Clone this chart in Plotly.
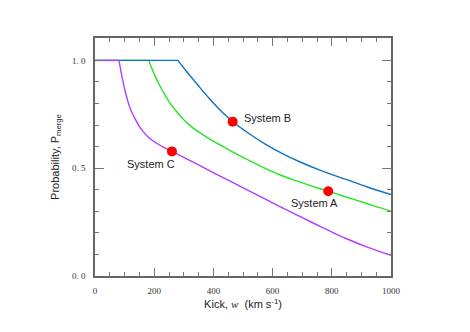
import plotly.graph_objects as go

# curves (kick in km/s, merger probability)
# first two points of each list are the flat P=1 part, the rest is the falling curve
purple_x = [0, 81, 85, 89, 94.5, 102, 111, 121, 134, 147, 162, 183, 207, 232, 260, 300, 342, 398, 455, 511, 567, 623, 679, 735, 791, 848, 920, 1000]
purple_y = [1.0, 1.0, 0.970, 0.940, 0.903, 0.857, 0.810, 0.770, 0.733, 0.700, 0.671, 0.640, 0.617, 0.597, 0.578, 0.550, 0.521, 0.481, 0.441, 0.402, 0.362, 0.323, 0.285, 0.247, 0.210, 0.174, 0.134, 0.096]

green_x = [0, 182, 190, 201, 214, 229, 250, 275, 300, 331, 365, 398, 430, 466, 515, 567, 620, 679, 735, 789, 840, 893, 945, 1000]
green_y = [1.0, 1.0, 0.969, 0.934, 0.895, 0.857, 0.809, 0.764, 0.725, 0.687, 0.655, 0.627, 0.602, 0.575, 0.540, 0.505, 0.472, 0.442, 0.416, 0.393, 0.370, 0.347, 0.324, 0.301]

blue_x = [0, 280, 308, 342, 387, 432, 465, 520, 578, 635, 691, 760, 848, 920, 1000]
blue_y = [1.0, 1.0, 0.951, 0.895, 0.822, 0.757, 0.717, 0.661, 0.609, 0.566, 0.530, 0.491, 0.448, 0.413, 0.378]

sys_names = ["System A", "System B", "System C"]
sys_x = [788, 465, 260]
sys_y = [0.393, 0.716, 0.578]

x_ticks = [0, 200, 400, 600, 800, 1000]
y_ticks = [0.0, 0.5, 1.0]
y_ticktext = ["0. 0", "0. 5", "1. 0"]

fig = go.Figure()

for xs, ys, col in [(green_x, green_y, "#22e622"),
                    (blue_x, blue_y, "#0a74c0"),
                    (purple_x, purple_y, "#b23cff")]:
    # flat part, straight
    fig.add_trace(go.Scatter(x=xs[:2], y=ys[:2], mode="lines",
                             line=dict(color=col, width=1.4)))
    # falling part, smoothed
    fig.add_trace(go.Scatter(x=xs[1:], y=ys[1:], mode="lines",
                             line=dict(color=col, width=1.4, shape="spline", smoothing=1.0)))

fig.add_trace(go.Scatter(x=sys_x, y=sys_y, mode="markers",
                         marker=dict(color="#ff0000", size=10)))

# labels next to the red dots
lab_font = dict(family="Liberation Sans, Arial", size=11, color="#222")
fig.add_annotation(x=sys_x[0], y=sys_y[0], text=sys_names[0], showarrow=False,
                   font=lab_font, xshift=-14, yshift=-12)
fig.add_annotation(x=sys_x[1], y=sys_y[1], text=sys_names[1], showarrow=False,
                   font=lab_font, xanchor="left", xshift=9, yshift=4)
fig.add_annotation(x=sys_x[2], y=sys_y[2], text=sys_names[2], showarrow=False,
                   font=lab_font, xshift=-21, yshift=-13)

axis_common = dict(showgrid=False, zeroline=False, showline=True, linecolor="#666",
                   linewidth=1.5, mirror="ticks", ticks="inside", tickcolor="#777",
                   tickwidth=1.2, automargin=False,
                   tickfont=dict(family="Liberation Serif, Times New Roman", size=9, color="#333"))

fig.update_xaxes(axis_common, range=[0, 1000], tickvals=x_ticks, ticklen=8,
                 ticklabelstandoff=5,
                 minor=dict(dtick=50, ticks="inside", ticklen=4, tickcolor="#777", tickwidth=1.2),
                 title=dict(text="Kick, <span style='font-family:Liberation Serif'><i>w</i></span>&nbsp;&nbsp;(km s<sup>-1</sup>)",
                            font=dict(family="Liberation Sans, Arial", size=11, color="#222"), standoff=6))
fig.update_yaxes(axis_common, range=[0, 1.104], tickvals=y_ticks, ticktext=y_ticktext, ticklen=9,
                 ticklabelstandoff=6,
                 minor=dict(dtick=0.1, ticks="inside", ticklen=4, tickcolor="#777", tickwidth=1.2),
                 title=dict(text="Probability, P<sub>merge</sub>",
                            font=dict(family="Liberation Sans, Arial", size=11, color="#222"), standoff=10))

# page body keeps its default 8px margin, so pull the plot up/left by that much
fig.update_layout(width=470, height=332, showlegend=False,
                  margin=dict(l=87, r=87, t=30, b=64),
                  plot_bgcolor="white", paper_bgcolor="white")

fig.write_html("out.html")
